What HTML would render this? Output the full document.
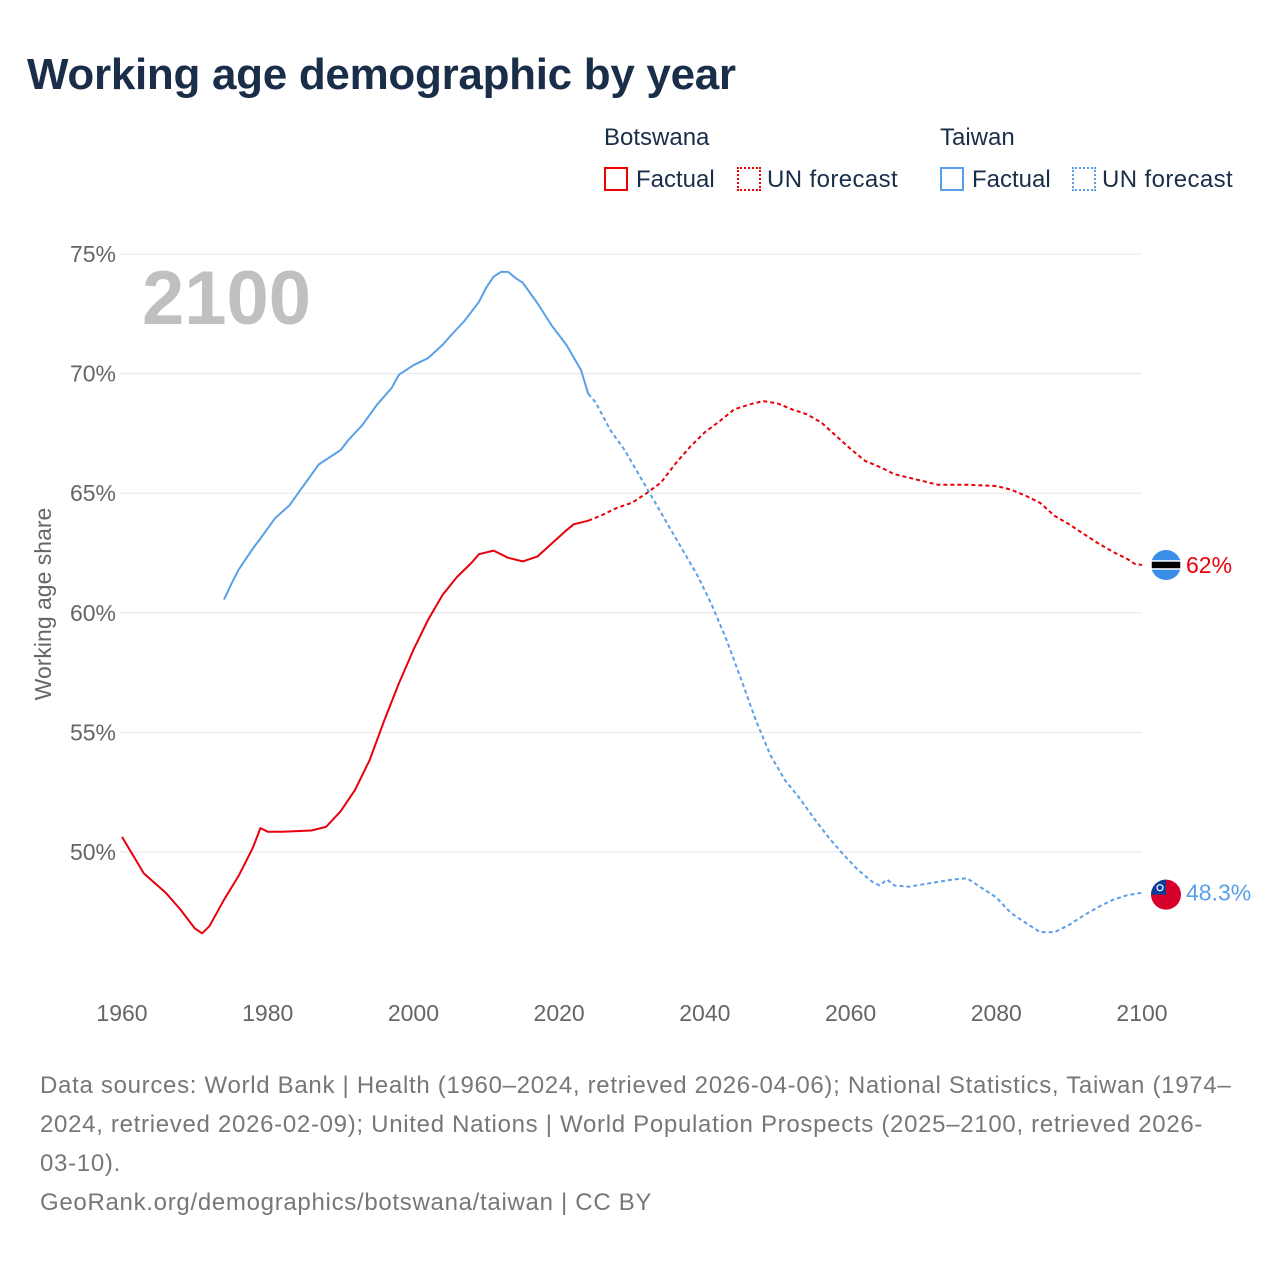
<!DOCTYPE html>
<html><head><meta charset="utf-8"><style>
body{margin:0;background:#fff;font-family:"Liberation Sans",sans-serif;}
#wrap{position:relative;width:1280px;height:1280px;overflow:hidden;}
.t{position:absolute;white-space:nowrap;}
</style></head><body>
<div id="wrap">
<div class="t" style="left:27px;top:50px;font-size:44px;font-weight:bold;color:#1a2e4a;letter-spacing:-0.3px">Working age demographic by year</div>
<div class="t" style="left:604px;top:124px;font-size:24px;color:#1a2e4a">Botswana</div>
<div class="t" style="left:940px;top:124px;font-size:24px;color:#1a2e4a">Taiwan</div>
<div class="t" style="left:604px;top:166px;font-size:24px;color:#1a2e4a"><span style="display:inline-block;width:20px;height:20px;border:2px solid #e00;vertical-align:-4px;margin-right:8px"></span>Factual</div>
<div class="t" style="left:737px;top:166px;font-size:24px;color:#1a2e4a;letter-spacing:0.4px"><span style="display:inline-block;width:20px;height:20px;border:2px dotted #e00;vertical-align:-4px;margin-right:6px"></span>UN forecast</div>
<div class="t" style="left:940px;top:166px;font-size:24px;color:#1a2e4a"><span style="display:inline-block;width:20px;height:20px;border:2px solid #5aa0e8;vertical-align:-4px;margin-right:8px"></span>Factual</div>
<div class="t" style="left:1072px;top:166px;font-size:24px;color:#1a2e4a;letter-spacing:0.4px"><span style="display:inline-block;width:20px;height:20px;border:2px dotted #5aa0e8;vertical-align:-4px;margin-right:6px"></span>UN forecast</div>
<svg id="chart" width="1280" height="1280" style="position:absolute;left:0;top:0"></svg>
<div class="t" style="left:40px;top:1066px;font-size:24px;line-height:39px;color:#777;letter-spacing:0.7px">Data sources: World Bank | Health (1960–2024, retrieved 2026-04-06); National Statistics, Taiwan (1974–<br>2024, retrieved 2026-02-09); United Nations | World Population Prospects (2025–2100, retrieved 2026-<br>03-10).<br>GeoRank.org/demographics/botswana/taiwan | CC BY</div>
</div>
<script>
const xTicks=[1960,1980,2000,2020,2040,2060,2080,2100];
const yTicks=[50,55,60,65,70,75];
const bwYears=[1960,1963,1966,1968,1970,1971,1972,1974,1976,1977,1978,1979,1980,1982,1986,1988,1990,1992,1994,1996,1998,2000,2002,2004,2006,2008,2009,2011,2013,2015,2017,2019,2021,2022,2024];
const bwVals=[50.63,49.1,48.3,47.6,46.8,46.6,46.9,48.0,49.0,49.6,50.2,51.0,50.85,50.85,50.9,51.05,51.7,52.6,53.85,55.5,57.05,58.45,59.7,60.75,61.5,62.1,62.45,62.6,62.3,62.15,62.35,62.9,63.45,63.7,63.85];
const bwFYears=[2024,2026,2028,2030,2032,2034,2036,2038,2040,2042,2044,2046,2048,2050,2052,2054,2056,2058,2060,2062,2064,2066,2068,2070,2072,2076,2080,2082,2084,2086,2088,2090,2092,2094,2096,2098,2099,2100];
const bwFVals=[63.85,64.1,64.4,64.6,65.0,65.45,66.25,66.95,67.55,68.0,68.5,68.7,68.85,68.75,68.5,68.3,67.95,67.4,66.85,66.35,66.1,65.8,65.65,65.5,65.35,65.35,65.3,65.15,64.9,64.6,64.05,63.7,63.3,62.9,62.55,62.25,62.05,62.0];
const twYears=[1974,1975,1976,1978,1979,1981,1983,1985,1987,1990,1991,1993,1995,1997,1998,2000,2002,2004,2005,2007,2009,2010,2011,2012,2013,2014,2015,2017,2019,2021,2023,2024];
const twVals=[60.55,61.2,61.8,62.7,63.1,63.95,64.5,65.35,66.2,66.8,67.2,67.85,68.7,69.4,69.95,70.35,70.65,71.2,71.55,72.2,73.0,73.6,74.05,74.25,74.25,74.0,73.8,72.95,72.0,71.2,70.15,69.15];
const twFYears=[2024,2025,2027,2029,2031,2033,2035,2037,2039,2041,2043,2045,2047,2049,2051,2053,2055,2057,2059,2061,2063,2064,2065,2066,2068,2070,2072,2074,2076,2078,2080,2082,2084,2086,2088,2090,2092,2094,2096,2098,2100];
const twFVals=[69.15,68.8,67.65,66.8,65.75,64.7,63.65,62.6,61.55,60.3,58.85,57.2,55.5,54.05,53.0,52.25,51.4,50.6,49.9,49.25,48.75,48.6,48.85,48.6,48.55,48.65,48.75,48.85,48.9,48.5,48.1,47.45,47.05,46.65,46.65,46.95,47.35,47.7,48.0,48.2,48.3];
const NS='http://www.w3.org/2000/svg';
const svg=document.getElementById('chart');
const X=y=>122+(y-1960)*(1020/140);
const Y=v=>852-(v-50)*23.92;
function mk(tag,attrs){const e=document.createElementNS(NS,tag);for(const k in attrs)e.setAttribute(k,attrs[k]);svg.appendChild(e);return e;}
yTicks.forEach(v=>{
  const g=mk('line',{x1:120,x2:1142,y1:Y(v),y2:Y(v),stroke:'#e6e6e6','stroke-width':1});
  
  
  const t=mk('text',{x:116,y:Y(v)+8,'text-anchor':'end','font-size':23,fill:'#666','font-family':'Liberation Sans'});
  t.textContent=v+'%';
  
  
});
xTicks.forEach(yr=>{
  const t=mk('text',{x:X(yr),y:1021,'text-anchor':'middle','font-size':23,fill:'#666','font-family':'Liberation Sans'});
  t.textContent=yr;
  
  
});
const yt=mk('text',{x:0,y:0,transform:'translate(51,604) rotate(-90)','text-anchor':'middle','font-size':23,fill:'#666','font-family':'Liberation Sans'});
yt.textContent='Working age share';


const big=mk('text',{x:142,y:324,'font-size':76,'font-weight':'bold',fill:'#c0c0c0','font-family':'Liberation Sans'});
big.textContent='2100';


function line(xs,vs,color,dash,name){
  const d=xs.map((yr,i)=>(i?'L':'M')+X(yr).toFixed(1)+','+Y(vs[i]).toFixed(1)).join('');
  const p=mk('path',{d:d,fill:'none',stroke:color,'stroke-width':2,'stroke-linejoin':'round'});
  if(dash)p.setAttribute('stroke-dasharray','4,3');
  
  
}
line(bwYears,bwVals,'#e8000b',false,'botswana-factual-line');
line(bwFYears,bwFVals,'#e8000b',true,'botswana-forecast-line');
line(twYears,twVals,'#5aa0e8',false,'taiwan-factual-line');
line(twFYears,twFVals,'#5aa0e8',true,'taiwan-forecast-line');
const bwEnd=bwFVals[bwFVals.length-1], twEnd=twFVals[twFVals.length-1];
const cx=1166;
let by=Y(bwEnd);
const c1=mk('circle',{cx:cx,cy:by,r:15,fill:'#3a8ee8'});


const s1=mk('rect',{x:cx-15,y:by-4,width:30,height:8,fill:'#000',stroke:'#fff','stroke-width':1.5});


const l1=mk('text',{x:1186,y:by+8,'font-size':23,fill:'#e8000b','font-family':'Liberation Sans'});
l1.textContent=bwEnd+'%';


let ty=Y(twEnd)+2;
const c2=mk('circle',{cx:cx,cy:ty,r:15,fill:'#d7002a'});


const q=mk('path',{d:`M${cx-15},${ty} A15,15 0 0 1 ${cx},${ty-15} L${cx},${ty} Z`,fill:'#0a3d9a'});


const sun=mk('circle',{cx:cx-6,cy:ty-7,r:3,fill:'none',stroke:'#fff','stroke-width':1.2});


const l2=mk('text',{x:1186,y:ty+6,'font-size':23,fill:'#5aa0e8','font-family':'Liberation Sans'});
l2.textContent=twEnd+'%';


</script>
</body></html>
